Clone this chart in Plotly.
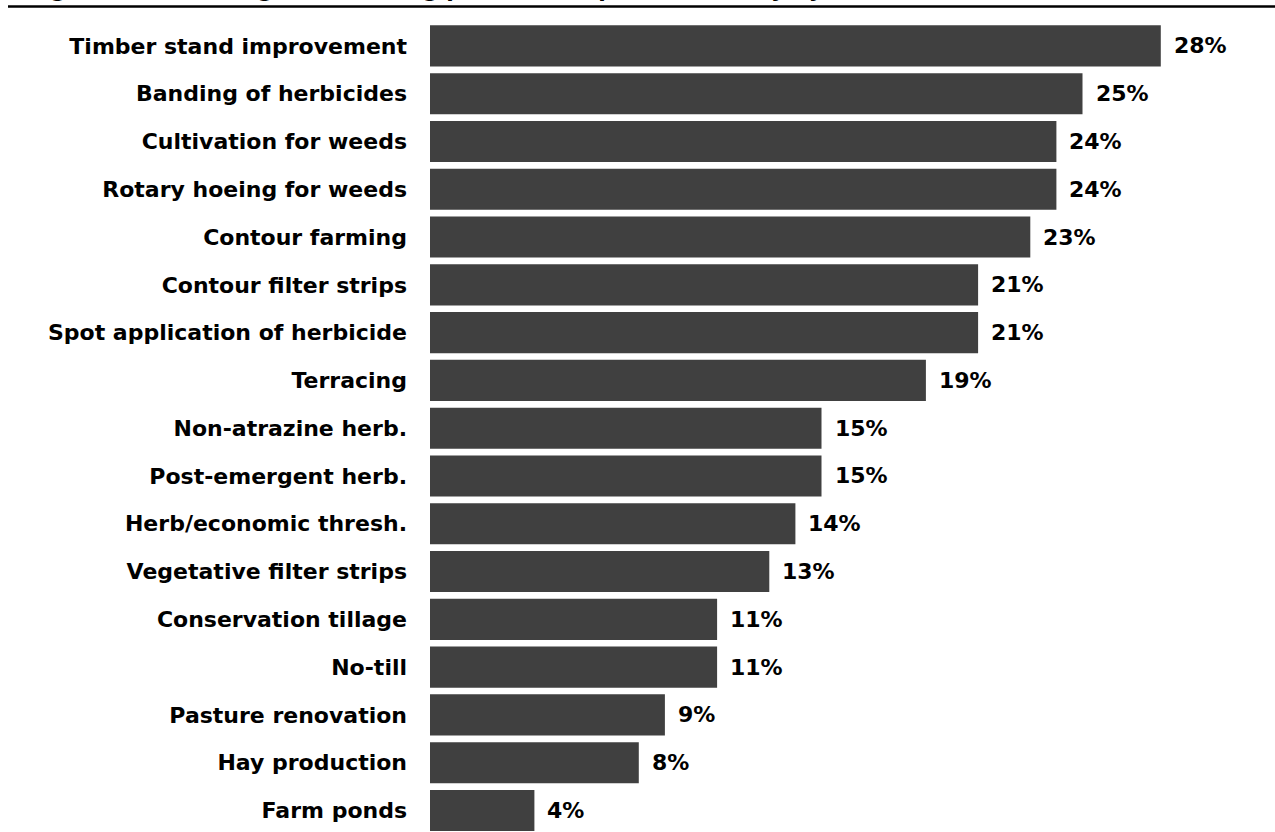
import plotly.graph_objects as go

practices = [
    "Timber stand improvement",
    "Banding of herbicides",
    "Cultivation for weeds",
    "Rotary hoeing for weeds",
    "Contour farming",
    "Contour filter strips",
    "Spot application of herbicide",
    "Terracing",
    "Non-atrazine herb.",
    "Post-emergent herb.",
    "Herb/economic thresh.",
    "Vegetative filter strips",
    "Conservation tillage",
    "No-till",
    "Pasture renovation",
    "Hay production",
    "Farm ponds",
]
percent = [28, 25, 24, 24, 23, 21, 21, 19, 15, 15, 14, 13, 11, 11, 9, 8, 4]

title_text = "Figure 7. Percentages of farming practices in place currently by farmers"

W, H = 1275, 832
ML, MR, MT, MB = 430, 0, 22, 0
plot_w = W - ML - MR
plot_h = H - MT - MB

FONT = "DejaVu Sans, Liberation Sans, Arial, sans-serif"
FS = 22
BAR = "#404040"

fig = go.Figure(
    go.Bar(
        y=practices,
        x=percent,
        orientation="h",
        marker=dict(color=BAR, line=dict(width=0)),
        width=0.86,
        hoverinfo="skip",
    )
)

# value labels to the right of each bar
for name, v in zip(practices, percent):
    fig.add_annotation(
        x=v, y=name, xref="x", yref="y",
        text=f"<b>{v}%</b>", showarrow=False,
        xanchor="left", xshift=11,
        font=dict(family=FONT, size=FS, color="#000000"),
    )

# rule under the heading
line_y = 1 + (MT - 6.5) / plot_h
fig.add_shape(
    type="line", xref="paper", yref="paper",
    x0=(8 - ML) / plot_w, x1=1.0, y0=line_y, y1=line_y,
    line=dict(color="#000000", width=2.5),
)

# heading, mostly above the page edge
fig.add_annotation(
    xref="paper", yref="paper",
    x=(26 - ML) / plot_w, y=1 + (MT - 4) / plot_h,
    text=f"<b>{title_text}</b>", showarrow=False,
    xanchor="left", yanchor="bottom",
    font=dict(family=FONT, size=FS, color="#000000"),
)

fig.update_layout(
    width=W, height=H,
    margin=dict(l=ML, r=MR, t=MT, b=MB, pad=0),
    paper_bgcolor="#ffffff", plot_bgcolor="#ffffff",
    showlegend=False,
    xaxis=dict(
        range=[0, plot_w / 26.1], visible=False, fixedrange=True,
    ),
    yaxis=dict(
        type="category",
        categoryorder="array", categoryarray=practices,
        range=[16.45, -0.5],
        showgrid=False, zeroline=False, showline=False,
        ticks="", ticklabelstandoff=22,
        tickfont=dict(family=FONT, size=FS, color="#000000"),
        fixedrange=True,
    ),
    font=dict(family=FONT),
)

# bold category labels
fig.update_yaxes(tickvals=practices, ticktext=[f"<b>{p}</b>" for p in practices])

fig.write_html("out.html", config={"displayModeBar": False})
